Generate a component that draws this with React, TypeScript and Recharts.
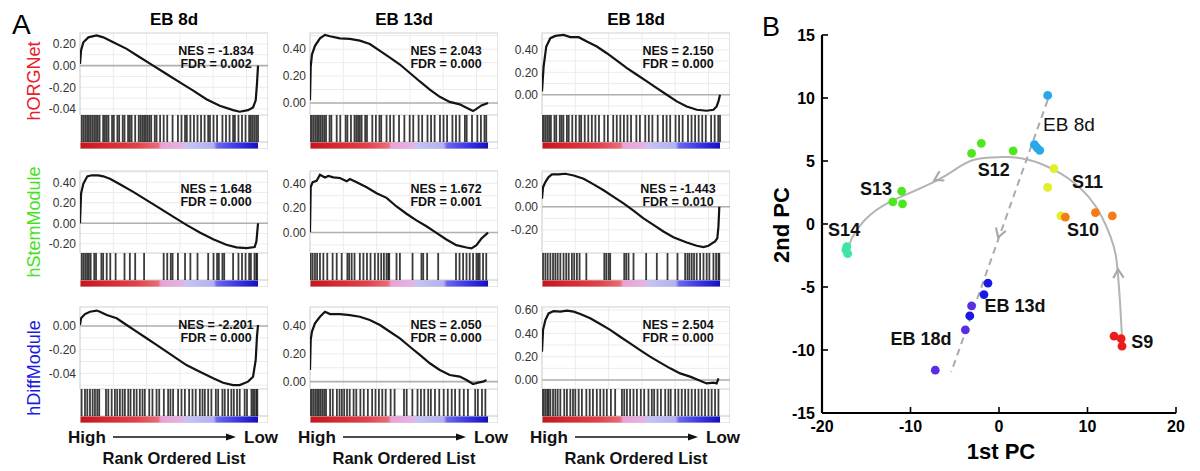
import React from "react";
import {
  LineChart,
  Line,
  ComposedChart,
  ScatterChart,
  Scatter,
  XAxis,
  YAxis,
  CartesianGrid,
  ReferenceLine,
  ReferenceArea,
} from "recharts";

const FONT = "'Liberation Sans', Arial, sans-serif";

// ---------- panel A data ----------
const stages = ["EB 8d", "EB 13d", "EB 18d"];
const geneSets = ["hORGNet", "hStemModule", "hDiffModule"];
const geneSetColors = ["#e8202a", "#45e21c", "#1c1ce0"];

const nesValues = [
  ["-1.834", "2.043", "2.150"],
  ["1.648", "1.672", "-1.443"],
  ["-2.201", "2.050", "2.504"],
];
const fdrValues = [
  ["0.002", "0.000", "0.000"],
  ["0.000", "0.001", "0.010"],
  ["0.000", "0.000", "0.000"],
];

// running enrichment score: [rank %, ES]
const esORG8 = [[0,0.015],[0.6,0.14],[1.9,0.215],[4.7,0.26],[9.3,0.277],[13.1,0.26],[18.7,0.215],[26.2,0.154],[33.6,0.077],[41.1,0],[48.6,-0.077],[56.1,-0.154],[63.6,-0.23],[71,-0.31],[78.5,-0.37],[86,-0.41],[89.7,-0.425],[94.4,-0.41],[97.2,-0.385],[98.7,-0.32],[99.4,-0.17],[100,0]];
const esORG13 = [[0,0.02],[0.4,0.27],[1.1,0.36],[2.8,0.425],[5.6,0.48],[8.4,0.506],[11.2,0.496],[16.8,0.48],[22.4,0.476],[28,0.463],[33.6,0.438],[39.3,0.387],[44.9,0.337],[50.5,0.286],[56.1,0.223],[61.7,0.16],[67.3,0.1],[72.9,0.046],[78.5,0.008],[84.1,-0.01],[87.9,-0.035],[91.6,-0.06],[93.5,-0.043],[96.3,-0.018],[100,0]];
const esORG18 = [[0,0.03],[0.9,0.25],[2.4,0.43],[4.7,0.504],[7.5,0.524],[12.1,0.533],[15.9,0.513],[20.6,0.513],[25.2,0.474],[30.8,0.43],[36.4,0.37],[42.1,0.305],[47.7,0.237],[53.3,0.178],[58.9,0.119],[64.5,0.059],[70.1,0],[75.7,-0.059],[81.3,-0.104],[86.9,-0.133],[92.5,-0.142],[96.3,-0.133],[98.1,-0.104],[99.1,-0.059],[100,0]];
const esSTEM8 = [[0,0],[0.6,0.29],[1.9,0.387],[4.1,0.458],[6.5,0.468],[10.3,0.468],[13.1,0.458],[16.8,0.435],[22.4,0.38],[29.9,0.306],[37.4,0.226],[44.9,0.145],[52.3,0.065],[59.8,-0.016],[67.3,-0.09],[74.8,-0.155],[82.2,-0.21],[87.9,-0.235],[93.5,-0.242],[98.1,-0.232],[99.1,-0.177],[100,0]];
const esSTEM13 = [[0,0.005],[0.4,0.37],[1.5,0.41],[3.7,0.42],[5.6,0.47],[8.4,0.448],[10.3,0.46],[13.1,0.448],[16.8,0.443],[20.6,0.416],[22.4,0.435],[26.2,0.408],[31.8,0.368],[37.4,0.32],[43,0.282],[48.6,0.212],[54.2,0.153],[59.8,0.099],[65.4,0.051],[71,-0.003],[76.6,-0.056],[82.2,-0.102],[87.9,-0.121],[90.7,-0.129],[93.5,-0.102],[96.3,-0.048],[100,0]];
const esSTEM18 = [[0,0.07],[0.6,0.17],[1.9,0.214],[3.7,0.257],[5.6,0.28],[9.3,0.28],[13.1,0.286],[17.8,0.271],[23.4,0.243],[29,0.194],[34.6,0.143],[40.2,0.086],[45.8,0.029],[51.4,-0.034],[57,-0.1],[62.6,-0.157],[68.2,-0.214],[73.8,-0.263],[81.3,-0.309],[86.9,-0.337],[90.7,-0.349],[93.5,-0.337],[97.2,-0.3],[98.5,-0.271],[99.1,-0.171],[99.6,0]];
const esDIFF8 = [[0,0.008],[0.6,0.065],[2.8,0.1],[5.6,0.12],[9.3,0.13],[11.2,0.12],[15,0.093],[20.6,0.065],[26.2,0.008],[31.8,-0.048],[37.4,-0.104],[43,-0.16],[48.6,-0.217],[54.2,-0.273],[59.8,-0.33],[67.3,-0.386],[74.8,-0.442],[80.4,-0.479],[86,-0.499],[89.7,-0.499],[94.4,-0.47],[97.2,-0.428],[98.7,-0.287],[99.4,-0.09],[100,0.008]];
const esDIFF13 = [[0,0.084],[0.4,0.3],[1.1,0.36],[2.8,0.42],[5.6,0.467],[8.4,0.503],[11.2,0.486],[16.8,0.486],[22.4,0.479],[28,0.467],[33.6,0.443],[39.3,0.407],[44.9,0.359],[50.5,0.311],[56.1,0.251],[61.7,0.192],[67.3,0.132],[72.9,0.084],[78.5,0.048],[84.1,0.036],[87.9,0.012],[91.6,-0.017],[94.4,-0.007],[97.2,0],[99.1,0.012]];
const esDIFF18 = [[0,0.243],[0.6,0.43],[1.9,0.514],[3.7,0.571],[6.5,0.591],[10.3,0.586],[14,0.594],[17.8,0.586],[21.5,0.566],[27.1,0.529],[32.7,0.48],[38.3,0.43],[43.9,0.371],[49.5,0.314],[55.1,0.257],[60.7,0.2],[66.4,0.149],[72,0.1],[77.6,0.057],[83.2,0.029],[88.8,-0.006],[92.5,-0.029],[96.3,-0.023],[98.1,-0.029],[99.1,0.014]];

// gene set hits along the ranked list (rank %)
const hitsORG8 = [1,2,3,4,5,6,7,8,9,10,11,13,14,15,16,18,19,21,22,24,25,27,28,29,31,33,34,35,36,37,38,39,40,42,43,45,47,49,52,55,57,59,60,62,64,66,68,70,72,73,75,77,80,82,84,86,87,89,91,93,95,96,97,98,99,100];
const hitsORG13 = [0,1,2,3,4,5,6,7,8,9,11,12,15,17,20,21,23,25,26,27,28,29,31,32,35,37,39,40,43,45,47,50,53,56,58,61,63,66,68,70,73,75,77,80,82,84,87,88,91,94,96,98,99];
const hitsORG18 = [0,1,2,3,4,5,7,8,10,11,12,14,15,17,19,21,22,24,26,28,30,32,35,37,40,42,44,46,48,50,53,55,58,60,62,65,68,70,72,75,77,79,82,84,86,88,90,92,95,97,99,100];
const hitsSTEM8 = [1,2,3,4,5,6,8,9,12,13,15,17,20,25,28,31,36,47,49,51,52,55,59,62,66,72,75,77,78,80,81,86,89,91,93,95,96,98,99,99.5];
const hitsSTEM13 = [0.4,1.5,2.8,4,5.6,7.5,9.7,12.7,15,17.8,21,22,23.4,25,28,30,32,34,36.4,38.3,40,41.5,43,44,44.5,48.6,50.5,57.6,62.6,63.6,65.8,72,82,84,86,87.9,89.7,91.6,93.5,94.4,95.3,97.2,99];
const hitsSTEM18 = [0.6,1.9,3.2,4.7,6.2,7.5,8.8,10.3,12.1,13.6,15,16.8,18.1,19.6,21.1,24.9,35,36.1,37.4,38.3,46.2,47.3,48.6,51.4,58.5,64.5,70.5,76.1,80.4,81.7,82.8,84.1,85.4,86.9,88.8,90.7,92.5,94,96.3,97.8,99.1,99.6];
const hitsDIFF8 = [0.9,2.8,4.1,5.6,7.1,8.4,9.7,10.8,14.6,15.9,17.8,19.6,20.9,22.4,23.9,25.2,27.1,28.4,30.3,31.8,33.6,35.1,36.4,38.9,40.7,43,44.5,47.1,49.5,50.8,52.3,55.1,57,58.9,61.3,63.2,65,67.3,68.8,70.1,72,73.8,76.3,77.6,80,81.3,83.2,85,86.4,88.2,89.7,92.5,93.8,96.3,97.2,98.1,99.1,99.6];
const hitsDIFF13 = [0,1,2,3,4,5,6,7,8,9,11.3,12.8,15.1,16.6,17.9,19.2,20.8,22.3,24.5,26,28.3,30.2,32.5,34.9,36.8,38.7,40.6,42.5,45.3,47.5,52.8,54.3,57.5,60.4,62.3,64.2,66.4,67.9,70.2,72.6,75.1,77.4,79.6,81.5,84,86.4,88.7,92.8,94.3,96.6,98.5];
const hitsDIFF18 = [0,1,2,3,3.7,4.7,6.2,7.5,8.8,10.3,12.5,14,15.9,17.4,18.7,20.6,22.4,24.9,26.8,28.6,30.8,32.7,34.6,36.4,38.7,41.1,44.9,46.2,47.7,49.5,51.4,53.3,55.5,57.4,59.8,61.7,63,64.9,66.8,69.2,71,72.3,74.8,76.6,78.5,80.4,82.2,84.1,86,87.9,89.7,91.6,93.5,95.3,97.2,99.1];

const esCurves = [
  [esORG8, esORG13, esORG18],
  [esSTEM8, esSTEM13, esSTEM18],
  [esDIFF8, esDIFF13, esDIFF18],
];
const hitLists = [
  [hitsORG8, hitsORG13, hitsORG18],
  [hitsSTEM8, hitsSTEM13, hitsSTEM18],
  [hitsDIFF8, hitsDIFF13, hitsDIFF18],
];

// y axis of each panel: domain, ticks and the labels printed at them
const yDomains = [
  [[-0.455, 0.3], [-0.089, 0.52], [-0.18, 0.55]],
  [[-0.29, 0.51], [-0.166, 0.5], [-0.4, 0.31]],
  [[-0.532, 0.16], [-0.053, 0.537], [-0.077, 0.626]],
];
const yTicks = [
  [[0.2, 0, -0.2, -0.4], [0.4, 0.2, 0], [0.4, 0.2, 0]],
  [[0.4, 0.2, 0, -0.2], [0.4, 0.2, 0], [0.2, 0, -0.2]],
  [[0, -0.2, -0.4], [0.4, 0.2, 0], [0.6, 0.4, 0.2, 0]],
];
const yTickLabels = [
  [["0.20", "0.00", "-0.20", "-0.04"], ["0.40", "0.20", "0.00"], ["0.40", "0.20", "0.00"]],
  [["0.40", "0.20", "0.00", "-0.20"], ["0.40", "0.20", "0.00"], ["0.20", "0.00", "-0.20"]],
  [["0.00", "-0.20", "-0.04"], ["0.40", "0.20", "0.00"], ["0.60", "0.40", "0.20", "0.00"]],
];
const gridRanks = [18.7, 37.4, 56.1, 74.8, 93.5];

// ---------- panel B data ----------
const pcXTicks = [-20, -10, 0, 10, 20];
const pcYTicks = [-15, -10, -5, 0, 5, 10, 15];
const ptEB8 = [{ x: 5.5, y: 10.2 }, { x: 4.0, y: 6.3 }, { x: 4.3, y: 6.05 }, { x: 4.6, y: 5.85 }];
const ptS12 = [{ x: -2.0, y: 6.4 }, { x: -3.1, y: 5.6 }, { x: 1.6, y: 5.8 }];
const ptS13 = [{ x: -11.0, y: 2.6 }, { x: -12.0, y: 1.75 }, { x: -10.9, y: 1.6 }];
const ptS14 = [{ x: -17.2, y: -1.8 }, { x: -17.1, y: -2.35 }, { x: -17.3, y: -2.05 }];
const ptS11 = [{ x: 6.2, y: 4.4 }, { x: 5.5, y: 2.9 }, { x: 7.0, y: 0.65 }];
const ptS10 = [{ x: 7.5, y: 0.55 }, { x: 10.9, y: 0.9 }, { x: 12.8, y: 0.65 }];
const ptS9 = [{ x: 13.0, y: -8.9 }, { x: 13.8, y: -9.1 }, { x: 13.9, y: -9.7 }];
const ptEB13 = [{ x: -1.25, y: -4.7 }, { x: -1.7, y: -5.6 }, { x: -3.3, y: -7.3 }];
const ptEB18 = [{ x: -3.1, y: -6.5 }, { x: -3.8, y: -8.4 }, { x: -7.2, y: -11.6 }];

const somitePath = [
  { x: 13.9, y: -9 }, { x: 13.7, y: -6.5 }, { x: 13.5, y: -4.5 }, { x: 13.2, y: -2.5 },
  { x: 12.6, y: -1.0 }, { x: 11.6, y: 0.6 }, { x: 10.2, y: 2.1 }, { x: 8.6, y: 3.2 },
  { x: 7, y: 4.0 }, { x: 5, y: 4.7 }, { x: 3.3, y: 5.1 }, { x: 1.5, y: 5.3 }, { x: 0, y: 5.3 },
  { x: -2.8, y: 5.1 }, { x: -5, y: 4.3 }, { x: -6.9, y: 3.5 }, { x: -9, y: 2.8 },
  { x: -11.1, y: 2.15 }, { x: -13, y: 1.5 }, { x: -14.6, y: 0.7 }, { x: -15.8, y: -0.2 },
  { x: -16.6, y: -1.1 }, { x: -17.1, y: -2.0 },
];
const ebPath = [{ x: 5.5, y: 9.84 }, { x: -5.4, y: -11.75 }];
const arrowHeads = [
  { x: 13.45, y: -3.6, angle: -93 },
  { x: -7.3, y: 3.5, angle: 152 },
  { x: -0.1, y: -1.05, angle: 109 },
];
const pointLabels = [
  { x: 7.9, y: 7.9, text: "EB 8d" },
  { x: -0.6, y: 4.3, text: "S12" },
  { x: 10.0, y: 3.3, text: "S11" },
  { x: -13.9, y: 2.75, text: "S13" },
  { x: -17.5, y: -0.5, text: "S14" },
  { x: 9.5, y: -0.5, text: "S10" },
  { x: 1.8, y: -6.5, text: "EB 13d" },
  { x: -8.8, y: -9.1, text: "EB 18d" },
  { x: 16.2, y: -9.4, text: "S9" },
];

// ---------- layout ----------
const colLefts = [80, 310, 542];
const rowTops = [33, 171, 307];
const BOX_W = 188;
const X_MAX = 105.6;
const AXIS_W = 50;
const PAD = 10;
const ES_H = 82;
const BAR_H = 34;
const HIT_H = 27;
const GRAD_TOP = 7 / 34;

function gridYs(domain: number[]) {
  const out: number[] = [];
  for (let k = -10; k <= 10; k++) {
    const v = k / 10;
    if (v > domain[0] && v < domain[1]) out.push(v);
  }
  return out;
}

function GseaPanel({ row, col }: { row: number; col: number }) {
  const left = colLefts[col];
  const top = rowTops[row];
  const data = esCurves[row][col].map(([r, es]) => ({ r, es }));
  const hits = hitLists[row][col].map((r) => ({ r, y: 1 }));
  const domain = yDomains[row][col];
  const ticks = yTicks[row][col];
  const labels = yTickLabels[row][col];
  const gid = `rank-${row}-${col}`;
  return (
    <>
      <div style={{ position: "absolute", left: left - AXIS_W, top: top - PAD }}>
        <LineChart width={AXIS_W + BOX_W} height={ES_H + PAD} data={data} margin={{ top: PAD, right: 0, bottom: 0, left: 0 }}>
          <CartesianGrid stroke="#ececec" verticalValues={gridRanks} horizontalValues={gridYs(domain)} />
          <XAxis type="number" dataKey="r" domain={[0, X_MAX]} hide allowDataOverflow />
          <YAxis
            type="number"
            domain={domain}
            ticks={ticks}
            interval={0}
            allowDataOverflow
            width={AXIS_W}
            axisLine={false}
            tickLine={false}
            tickSize={0}
            tickMargin={4}
            tick={{ fontSize: 12, fill: "#333", fontFamily: FONT }}
            tickFormatter={(v: number) => labels[ticks.indexOf(v)]}
          />
          <ReferenceArea x1={0} x2={X_MAX} y1={domain[0]} y2={domain[1]} fill="none" stroke="#d2d2d2" strokeWidth={1.2} />
          <ReferenceLine y={0} stroke="#b0b0b0" strokeWidth={1.6} />
          <Line type="linear" dataKey="es" stroke="#141414" strokeWidth={2.2} dot={false} isAnimationActive={false} />
        </LineChart>
      </div>
      <div style={{ position: "absolute", left, top: top + ES_H }}>
        <ComposedChart width={BOX_W} height={BAR_H} data={hits} margin={{ top: 0, right: 0, bottom: 0, left: 0 }}>
          <defs>
            <linearGradient id={gid} x1="0" y1="0" x2="1" y2="0">
              <stop offset="0%" stopColor="#c4141c" />
              <stop offset="12%" stopColor="#d6242c" />
              <stop offset="32%" stopColor="#e2404a" />
              <stop offset="44%" stopColor="#ec6c78" />
              <stop offset="45.5%" stopColor="#eca0d6" />
              <stop offset="58%" stopColor="#e6b2e8" />
              <stop offset="59.5%" stopColor="#c6c4f6" />
              <stop offset="75%" stopColor="#b2b0f4" />
              <stop offset="77%" stopColor="#6a66f0" />
              <stop offset="90%" stopColor="#3430e2" />
              <stop offset="100%" stopColor="#1410c0" />
            </linearGradient>
          </defs>
          <XAxis type="number" dataKey="r" domain={[0, X_MAX]} hide allowDataOverflow />
          <YAxis type="number" dataKey="y" domain={[0, 1]} hide allowDataOverflow />
          <ReferenceArea x1={0} x2={100} y1={0} y2={GRAD_TOP} fill={`url(#${gid})`} fillOpacity={1} stroke="none" />
          <ReferenceArea x1={0} x2={X_MAX} y1={0} y2={1} fill="none" stroke="#d2d2d2" strokeWidth={1.2} />
          <ReferenceLine y={GRAD_TOP} stroke="#c8c8c8" strokeWidth={1} />
          <Scatter
            data={hits}
            isAnimationActive={false}
            shape={(p: any) => (
              <line x1={p.cx} x2={p.cx} y1={p.cy} y2={p.cy + HIT_H} stroke="#111" strokeOpacity={0.82} strokeWidth={1.8} />
            )}
          />
        </ComposedChart>
      </div>
    </>
  );
}

function Dot({ color }: { color: string }) {
  return (p: any) => <circle cx={p.cx} cy={p.cy} r={4.4} fill={color} />;
}

function PcaChart() {
  const blank = () => <g />;
  const axisLine = { stroke: "#000", strokeWidth: 2.2 };
  const tickLine = { stroke: "#000", strokeWidth: 1.6 };
  const tickStyle = { fontSize: 16, fontWeight: 700, fill: "#000", fontFamily: FONT };
  const groups: [any[], string][] = [
    [ptEB8, "#2aa8ea"],
    [ptS12, "#4ee61e"],
    [ptS13, "#4ee61e"],
    [ptS14, "#3ee6a6"],
    [ptS11, "#e2ee26"],
    [ptS10, "#f57a18"],
    [ptS9, "#ec1c1c"],
    [ptEB13, "#1a1ae6"],
    [ptEB18, "#5a2ee4"],
  ];
  return (
    <div style={{ position: "absolute", left: 760, top: 0 }}>
      <ScatterChart width={440} height={471} margin={{ top: 35, right: 24, bottom: 18, left: 0 }}>
        <XAxis
          xAxisId="b"
          type="number"
          dataKey="x"
          domain={[-20, 20]}
          ticks={pcXTicks}
          interval={0}
          allowDataOverflow
          height={40}
          tickSize={-6}
          tickMargin={14}
          axisLine={axisLine}
          tickLine={tickLine}
          tick={tickStyle}
        />
        <XAxis
          xAxisId="t"
          orientation="top"
          type="number"
          dataKey="x"
          domain={[-20, 20]}
          ticks={pcXTicks}
          interval={0}
          allowDataOverflow
          height={0}
          tickSize={-6}
          axisLine={axisLine}
          tickLine={tickLine}
          tick={false}
        />
        <YAxis
          yAxisId="l"
          type="number"
          dataKey="y"
          domain={[-15, 15]}
          ticks={pcYTicks}
          interval={0}
          allowDataOverflow
          width={62}
          tickSize={-6}
          tickMargin={13}
          axisLine={axisLine}
          tickLine={tickLine}
          tick={tickStyle}
        />
        <YAxis
          yAxisId="r"
          orientation="right"
          type="number"
          dataKey="y"
          domain={[-15, 15]}
          ticks={pcYTicks}
          interval={0}
          allowDataOverflow
          width={0}
          tickSize={-6}
          axisLine={axisLine}
          tickLine={tickLine}
          tick={false}
        />
        <Scatter xAxisId="t" yAxisId="r" data={ebPath} shape={blank} isAnimationActive={false} />
        <Scatter
          xAxisId="b"
          yAxisId="l"
          data={somitePath}
          line={{ stroke: "#b4b4b4", strokeWidth: 2 }}
          lineJointType="natural"
          shape={blank}
          isAnimationActive={false}
        />
        <Scatter
          xAxisId="b"
          yAxisId="l"
          data={ebPath}
          line={{ stroke: "#ababab", strokeWidth: 2, strokeDasharray: "7 5" }}
          shape={blank}
          isAnimationActive={false}
        />
        <Scatter
          xAxisId="b"
          yAxisId="l"
          data={arrowHeads}
          isAnimationActive={false}
          shape={(p: any) => {
            const a = (p.payload.angle * Math.PI) / 180;
            const L = 10;
            const s = 0.55;
            const x1 = p.cx - L * Math.cos(a - s);
            const y1 = p.cy - L * Math.sin(a - s);
            const x2 = p.cx - L * Math.cos(a + s);
            const y2 = p.cy - L * Math.sin(a + s);
            return (
              <path d={`M${x1},${y1}L${p.cx},${p.cy}L${x2},${y2}`} stroke="#aaaaaa" strokeWidth={2.2} fill="none" />
            );
          }}
        />
        {groups.map(([pts, color], i) => (
          <Scatter key={i} xAxisId="b" yAxisId="l" data={pts} shape={Dot({ color })} isAnimationActive={false} />
        ))}
        <Scatter
          xAxisId="b"
          yAxisId="l"
          data={pointLabels}
          isAnimationActive={false}
          shape={(p: any) => (
            <text
              x={p.cx}
              y={p.cy}
              textAnchor="middle"
              dominantBaseline="central"
              fontFamily={FONT}
              fontSize={p.payload.text === "EB 8d" ? 19 : 18}
              fontWeight={p.payload.text === "EB 8d" ? 400 : 700}
              fill="#111"
            >
              {p.payload.text}
            </text>
          )}
        />
      </ScatterChart>
    </div>
  );
}

function Overlay() {
  return (
    <svg width={1200} height={471} style={{ position: "absolute", left: 0, top: 0, pointerEvents: "none" }} fontFamily={FONT}>
      <text x={12} y={34} fontSize={28}>A</text>
      <text x={762} y={36} fontSize={27}>B</text>
      {stages.map((s, c) => (
        <text key={s} x={colLefts[c] + BOX_W / 2} y={25} textAnchor="middle" fontSize={17} fontWeight={700}>
          {s}
        </text>
      ))}
      {geneSets.map((g, r) => {
        const cy = [81, 222, 368][r];
        return (
          <text
            key={g}
            x={34}
            y={cy}
            transform={`rotate(-90 34 ${cy})`}
            textAnchor="middle"
            dominantBaseline="central"
            fontSize={18}
            fill={geneSetColors[r]}
          >
            {g}
          </text>
        );
      })}
      {rowTops.map((t, r) =>
        colLefts.map((l, c) => (
          <g key={`${r}-${c}`} fontSize={12.5} fontWeight={700} fill="#111" textAnchor="middle">
            <text x={l + BOX_W - 52} y={t + 21.5}>{`NES = ${nesValues[r][c]}`}</text>
            <text x={l + BOX_W - 52} y={t + 35}>{`FDR = ${fdrValues[r][c]}`}</text>
          </g>
        ))
      )}
      {colLefts.map((l) => (
        <g key={l} fontWeight={700} fill="#111">
          <text x={l - 12} y={443} fontSize={17}>High</text>
          <text x={l + BOX_W + 10} y={443} fontSize={17} textAnchor="end">Low</text>
          <line x1={l + 33} x2={l + 148} y1={437} y2={437} stroke="#111" strokeWidth={1.5} />
          <path d={`M${l + 156},437 L${l + 146},433.5 L${l + 146},440.5 Z`} fill="#111" />
          <text x={l + BOX_W / 2} y={464} fontSize={16.5} textAnchor="middle">Rank Ordered List</text>
        </g>
      ))}
      <text x={1001} y={459} fontSize={22} fontWeight={700} textAnchor="middle">1st PC</text>
      <text x={781} y={225} transform="rotate(-90 781 225)" fontSize={22} fontWeight={700} textAnchor="middle" dominantBaseline="central">
        2nd PC
      </text>
    </svg>
  );
}

export default function App() {
  return (
    <div style={{ position: "absolute", left: 0, top: 0, width: 1200, height: 471, background: "#fff", overflow: "hidden", fontFamily: FONT }}>
      {rowTops.map((_, r) => colLefts.map((__, c) => <GseaPanel key={`${r}${c}`} row={r} col={c} />))}
      <PcaChart />
      <Overlay />
    </div>
  );
}
